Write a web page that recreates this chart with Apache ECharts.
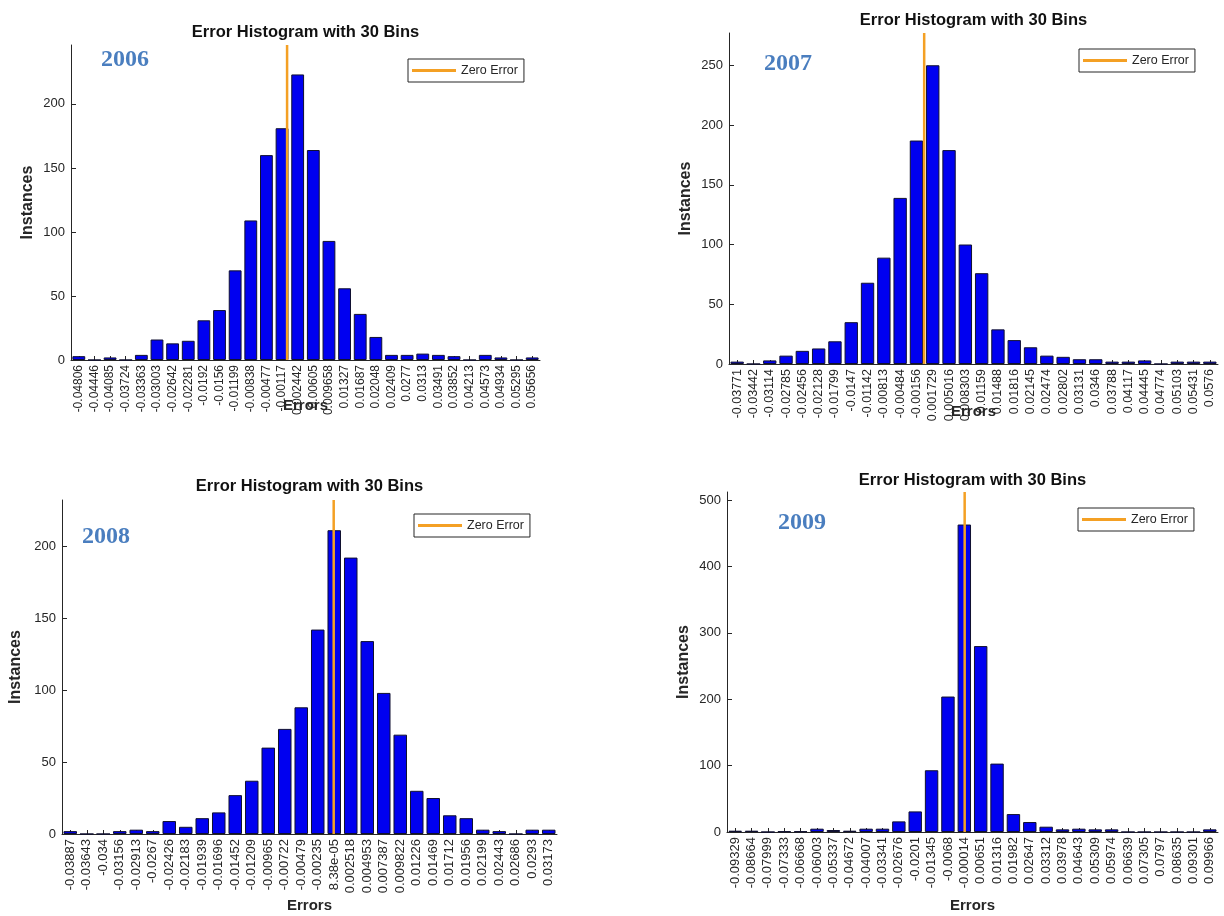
<!DOCTYPE html>
<html><head><meta charset="utf-8">
<script src="https://cdn.jsdelivr.net/npm/echarts@6/dist/echarts.min.js"></script>
<style>html,body{margin:0;padding:0;background:#fff}#c{width:1224px;height:916px}</style>
</head><body><div id="c"></div>
<script>
// ---------- data ----------
const years = ['2006', '2007', '2008', '2009'];
const titleText = 'Error Histogram with 30 Bins';
const legendText = 'Zero Error';
const xName = 'Errors';
const yName = 'Instances';

const bins2006 = ['-0.04806','-0.04446','-0.04085','-0.03724','-0.03363','-0.03003','-0.02642','-0.02281','-0.0192','-0.0156','-0.01199','-0.00838','-0.00477','-0.00117','0.002442','0.00605','0.009658','0.01327','0.01687','0.02048','0.02409','0.0277','0.0313','0.03491','0.03852','0.04213','0.04573','0.04934','0.05295','0.05656'];
const counts2006 = [3,0,2,0,4,16,13,15,31,39,70,109,160,181,223,164,93,56,36,18,4,4,5,4,3,0,4,2,0,2];
const yTicks2006 = [0,50,100,150,200];
const yMax2006 = 246;

const bins2007 = ['-0.03771','-0.03442','-0.03114','-0.02785','-0.02456','-0.02128','-0.01799','-0.0147','-0.01142','-0.00813','-0.00484','-0.00156','0.001729','0.005016','0.008303','0.01159','0.01488','0.01816','0.02145','0.02474','0.02802','0.03131','0.0346','0.03788','0.04117','0.04445','0.04774','0.05103','0.05431','0.0576'];
const counts2007 = [2,0,3,7,11,13,19,35,68,89,139,187,250,179,100,76,29,20,14,7,6,4,4,2,2,3,0,2,2,2];
const yTicks2007 = [0,50,100,150,200,250];
const yMax2007 = 277;

const bins2008 = ['-0.03887','-0.03643','-0.034','-0.03156','-0.02913','-0.0267','-0.02426','-0.02183','-0.01939','-0.01696','-0.01452','-0.01209','-0.00965','-0.00722','-0.00479','-0.00235','8.38e-05','0.002518','0.004953','0.007387','0.009822','0.01226','0.01469','0.01712','0.01956','0.02199','0.02443','0.02686','0.0293','0.03173'];
const counts2008 = [2,0,0,2,3,2,9,5,11,15,27,37,60,73,88,142,211,192,134,98,69,30,25,13,11,3,2,0,3,3];
const yTicks2008 = [0,50,100,150,200];
const yMax2008 = 232;

const bins2009 = ['-0.09329','-0.08664','-0.07999','-0.07333','-0.06668','-0.06003','-0.05337','-0.04672','-0.04007','-0.03341','-0.02676','-0.0201','-0.01345','-0.0068','-0.00014','0.00651','0.01316','0.01982','0.02647','0.03312','0.03978','0.04643','0.05309','0.05974','0.06639','0.07305','0.0797','0.08635','0.09301','0.09966'];
const counts2009 = [2,2,0,1,1,5,3,2,5,5,16,31,93,204,463,280,103,27,15,8,4,5,4,4,0,0,0,0,0,4];
const yTicks2009 = [0,100,200,300,400,500];
const yMax2009 = 512;

const zeroError = 0;

// ---------- layout / style ----------
const FONT = '"Liberation Sans", Arial, sans-serif';
const INK = '#262626';
const BAR = '#0000F0';
const ORANGE = '#F4A024';
const YEAR_COLOR = '#4A7EBF';

const panels = [
  {bins: bins2006, counts: counts2006, ticks: yTicks2006, ymax: yMax2006,
   grid: {left: 71, top: 45, width: 469, height: 315}, titleY: 32, yearXY: [101, 60],
   legend: {left: 408, top: 59}, xGap: 38, yGap: 35, xFont: 12},
  {bins: bins2007, counts: counts2007, ticks: yTicks2007, ymax: yMax2007,
   grid: {left: 729, top: 33, width: 489, height: 331}, titleY: 20, yearXY: [764, 64],
   legend: {left: 1079, top: 49}, xGap: 40, yGap: 35, xFont: 12.5},
  {bins: bins2008, counts: counts2008, ticks: yTicks2008, ymax: yMax2008,
   grid: {left: 62, top: 500, width: 495, height: 334}, titleY: 486, yearXY: [82, 537],
   legend: {left: 414, top: 514}, xGap: 64, yGap: 38, xFont: 13},
  {bins: bins2009, counts: counts2009, ticks: yTicks2009, ymax: yMax2009,
   grid: {left: 727, top: 492, width: 491, height: 340}, titleY: 480, yearXY: [778, 523],
   legend: {left: 1078, top: 508}, xGap: 66, yGap: 35, xFont: 13}
];

const grids = [], xAxes = [], yAxes = [], series = [], legends = [], graphics = [];

panels.forEach((p, i) => {
  grids.push(Object.assign({containLabel: false}, p.grid));
  const centers = p.bins.map(Number);
  const w = (centers[centers.length - 1] - centers[0]) / (centers.length - 1);

  xAxes[i] = {
    type: 'category', gridIndex: i, data: p.bins,
    name: xName, nameLocation: 'middle', nameGap: p.xGap, nameMoveOverlap: false,
    nameTextStyle: {fontFamily: FONT, fontWeight: 'bold', fontSize: 15, color: INK},
    axisLine: {show: true, onZero: false, lineStyle: {color: INK, width: 1}},
    axisTick: {show: true, inside: true, alignWithLabel: true, length: 4, lineStyle: {color: INK}},
    axisLabel: {interval: 0, rotate: 90, fontFamily: FONT, fontSize: p.xFont, color: INK, margin: 5},
    splitLine: {show: false}
  };
  xAxes[4 + i] = {
    type: 'value', gridIndex: i, show: false,
    min: centers[0] - w / 2, max: centers[centers.length - 1] + w / 2
  };
  yAxes[i] = {
    type: 'value', gridIndex: i, min: 0, max: p.ymax,
    name: yName, nameLocation: 'middle', nameGap: p.yGap, nameRotate: 90, nameMoveOverlap: false,
    nameTextStyle: {fontFamily: FONT, fontWeight: 'bold', fontSize: 16, color: INK},
    axisLine: {show: true, onZero: false, lineStyle: {color: INK, width: 1}},
    axisTick: {show: true, inside: true, length: 5, customValues: p.ticks, lineStyle: {color: INK}},
    axisLabel: {customValues: p.ticks, fontFamily: FONT, fontSize: 13, color: INK, margin: 6},
    splitLine: {show: false}
  };
  series.push({
    type: 'bar', xAxisIndex: i, yAxisIndex: i, data: p.counts,
    barWidth: '82%',
    itemStyle: {color: BAR, borderColor: '#101030', borderWidth: 1},
    silent: true, z: 2
  });
  series.push({
    type: 'line', name: legendText, xAxisIndex: 4 + i, yAxisIndex: i,
    data: [[zeroError, 0], [zeroError, p.ymax]],
    symbol: 'none', color: ORANGE,
    lineStyle: {color: ORANGE, width: 2.5}, itemStyle: {color: ORANGE},
    silent: true, z: 5
  });
  legends.push({
    left: p.legend.left, top: p.legend.top, data: [legendText],
    icon: 'rect', itemWidth: 44, itemHeight: 3,
    padding: [5, 6, 5, 4], borderColor: INK, borderWidth: 1, backgroundColor: '#fff',
    selectedMode: false,
    textStyle: {fontFamily: FONT, fontSize: 12.5, color: INK}
  });
  const cx = p.grid.left + p.grid.width / 2;
  graphics.push({
    type: 'text', x: cx, y: p.titleY, silent: true,
    style: {text: titleText, align: 'center', verticalAlign: 'middle',
      font: 'bold 16.5px ' + FONT, fill: '#111'}
  });
  graphics.push({
    type: 'text', x: p.yearXY[0], y: p.yearXY[1], silent: true,
    style: {text: years[i], align: 'left', verticalAlign: 'middle',
      font: 'bold 24px "Liberation Serif", "Times New Roman", serif', fill: YEAR_COLOR}
  });
});

const chart = echarts.init(document.getElementById('c'), null, {renderer: 'canvas'});
chart.setOption({
  animation: false,
  backgroundColor: '#fff',
  grid: grids,
  xAxis: xAxes,
  yAxis: yAxes,
  legend: legends,
  series: series,
  graphic: graphics
});
</script>
</body></html>
